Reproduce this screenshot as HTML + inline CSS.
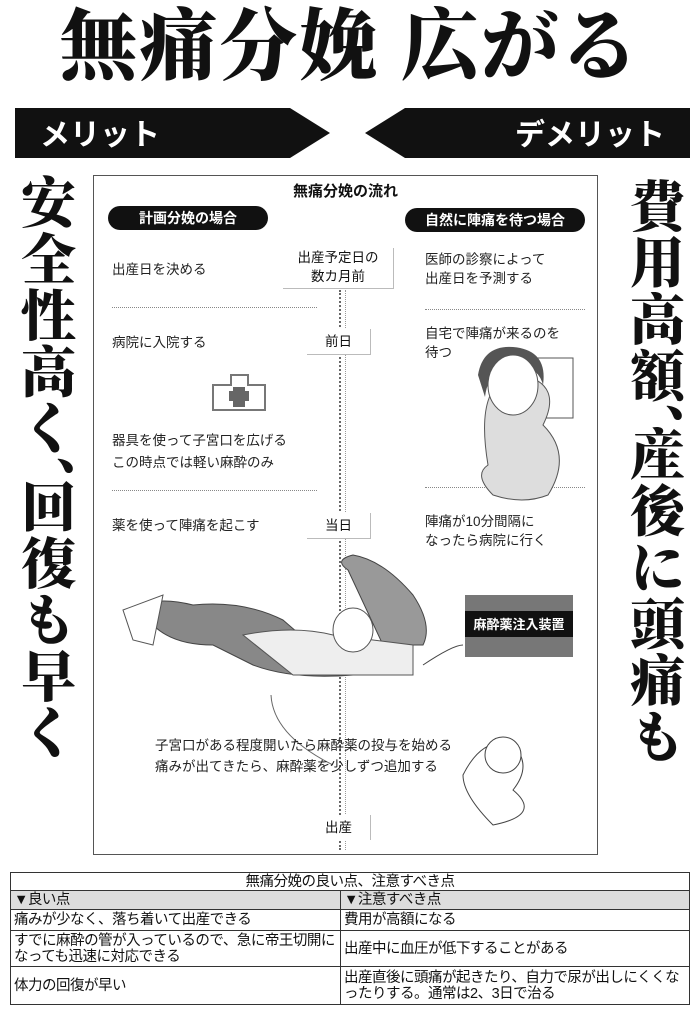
<!DOCTYPE html>
<html><head><meta charset="utf-8"><style>
body{margin:0;width:700px;height:1026px;background:#fff;position:relative;overflow:hidden;font-family:"Liberation Sans","Noto Sans CJK JP",sans-serif;color:#111}
.a{position:absolute}
.title{left:0;top:2px;width:700px;text-align:center;font-family:"Liberation Serif","Noto Serif CJK SC",serif;font-weight:900;font-size:78px;letter-spacing:2px;line-height:90px}
.vt{writing-mode:vertical-rl;font-family:"Liberation Serif","Noto Serif CJK SC",serif;font-weight:900;font-size:55px;line-height:60px;letter-spacing:1.5px}
.cm{display:inline-block;height:22px;overflow:visible}
.t{font-size:13.5px;line-height:20px;color:#222}
.pill{background:#111;color:#fff;font-weight:bold;font-size:14px;border-radius:12px;height:24px;line-height:24px;text-align:center}
.dot{border-top:1px dotted #888;height:0}
.lbl{font-size:13.5px;line-height:19px;text-align:center;border-right:1px solid #bbb;border-bottom:1px solid #bbb;background:#fff}
table{border-collapse:collapse;font-size:14.5px;letter-spacing:-0.5px}
td{border:1px solid #333;padding:0 3px;line-height:16px}
</style></head><body>
<div class="a title">無痛分娩 広がる</div>
<svg class="a" style="left:0;top:0" width="700" height="170">
<polygon points="15,108 290,108 330,133 290,158 15,158" fill="#111"/>
<polygon points="690,108 405,108 365,133 405,158 690,158" fill="#111"/>
<text x="40" y="145" fill="#fff" font-size="30" font-weight="bold" font-family="Liberation Sans,Noto Sans CJK JP,sans-serif">メリット</text>
<text x="515" y="145" fill="#fff" font-size="30" font-weight="bold" font-family="Liberation Sans,Noto Sans CJK JP,sans-serif">デメリット</text>
</svg>
<div class="a vt" style="left:13px;top:174px;height:620px">安全性高く<span class="cm">、</span>回復も早く</div>
<div class="a vt" style="left:622px;top:178px;height:620px">費用高額<span class="cm">、</span>産後に頭痛も</div>

<div class="a" style="left:93px;top:175px;width:505px;height:680px;border:1px solid #555;box-sizing:border-box"></div>
<div class="a" style="left:93px;top:180px;width:505px;text-align:center;font-weight:bold;font-size:15px">無痛分娩の流れ</div>
<div class="a pill" style="left:108px;top:206px;width:160px">計画分娩の場合</div>
<div class="a pill" style="left:405px;top:208px;width:180px">自然に陣痛を待つ場合</div>
<div class="a" style="left:339px;top:290px;width:4px;height:560px;border-left:2px dotted #666;border-right:1px dotted #999"></div>
<div class="a lbl" style="left:283px;top:248px;width:110px;height:40px">出産予定日の<br>数カ月前</div>
<div class="a lbl" style="left:307px;top:329px;width:63px;height:25px;line-height:25px">前日</div>
<div class="a lbl" style="left:307px;top:513px;width:63px;height:25px;line-height:25px">当日</div>
<div class="a lbl" style="left:307px;top:815px;width:63px;height:25px;line-height:25px;border-bottom:none">出産</div>
<div class="a t" style="left:112px;top:260px">出産日を決める</div>
<div class="a t" style="left:112px;top:333px">病院に入院する</div>
<div class="a t" style="left:112px;top:430px;line-height:22px">器具を使って子宮口を広げる<br>この時点では軽い麻酔のみ</div>
<div class="a t" style="left:112px;top:516px">薬を使って陣痛を起こす</div>
<div class="a t" style="left:425px;top:250px;line-height:19px">医師の診察によって<br>出産日を予測する</div>
<div class="a t" style="left:425px;top:324px;line-height:19px">自宅で陣痛が来るのを<br>待つ</div>
<div class="a t" style="left:425px;top:512px;line-height:19px">陣痛が10分間隔に<br>なったら病院に行く</div>
<div class="a dot" style="left:112px;top:307px;width:205px"></div>
<div class="a dot" style="left:112px;top:490px;width:205px"></div>
<div class="a dot" style="left:425px;top:309px;width:160px"></div>
<div class="a dot" style="left:425px;top:487px;width:160px"></div>
<svg class="a" style="left:93px;top:175px" width="505" height="680">
<g fill="#fff" stroke="#777" stroke-width="2">
<polygon points="120,235 120,210 138,210 138,200 155,200 155,210 172,210 172,235"/>
</g>
<rect x="140" y="212" width="12" height="20" fill="#666"/><rect x="136" y="216" width="20" height="10" fill="#666"/>
<rect x="440" y="183" width="40" height="60" fill="#fff" stroke="#555"/>
<path d="M395,290 Q380,200 430,200 Q470,210 450,250 Q480,280 455,320 Q430,330 400,320 Q380,300 395,290Z" fill="#ddd" stroke="#555"/>
<path d="M385,200 Q390,170 420,172 Q455,175 450,210 Q445,190 420,190 Q395,195 392,222Z" fill="#555"/>
<ellipse cx="420" cy="210" rx="25" ry="30" fill="#fff" stroke="#555"/>
<path d="M255,395 Q240,385 260,380 Q290,385 320,420 Q340,450 330,470 L290,470 Z" fill="#999" stroke="#444"/>
<path d="M40,435 Q60,420 100,430 Q150,425 190,445 Q230,480 260,500 Q200,505 160,490 L120,470 Q80,470 60,450Z" fill="#888" stroke="#444"/>
<path d="M150,460 Q200,450 240,460 L320,470 L320,500 L200,500Z" fill="#eee" stroke="#555"/>
<ellipse cx="260" cy="455" rx="20" ry="22" fill="#fff" stroke="#555"/>
<path d="M30,435 L70,420 L60,470 L40,465Z" fill="#fff" stroke="#555"/>
<path d="M330,490 Q360,470 370,470" fill="none" stroke="#444"/>
<rect x="372" y="420" width="108" height="62" fill="#777"/>
<rect x="372" y="436" width="108" height="26" fill="#111"/>
<text x="426" y="454" fill="#fff" font-size="13" font-weight="bold" text-anchor="middle" font-family="Liberation Sans,Noto Sans CJK JP,sans-serif">麻酔薬注入装置</text>
<path d="M178,520 Q180,560 240,590" fill="none" stroke="#666"/>
<path d="M370,600 Q390,560 420,570 Q440,590 420,615 Q450,640 400,650 Q370,620 370,600Z" fill="#fff" stroke="#444"/>
<circle cx="410" cy="580" r="18" fill="#fff" stroke="#444"/>
</svg>
<div class="a t" style="left:155px;top:735px;line-height:21px">子宮口がある程度開いたら麻酔薬の投与を始める<br>痛みが出てきたら、麻酔薬を少しずつ追加する</div>

<table class="a" style="left:10px;top:872px;width:680px">
<tr style="height:18px"><td colspan="2" style="text-align:center">無痛分娩の良い点、注意すべき点</td></tr>
<tr style="height:19px;background:#ddd"><td style="width:323px">▼良い点</td><td>▼注意すべき点</td></tr>
<tr style="height:21px"><td>痛みが少なく、落ち着いて出産できる</td><td>費用が高額になる</td></tr>
<tr style="height:36px"><td>すでに麻酔の管が入っているので、急に帝王切開になっても迅速に対応できる</td><td>出産中に血圧が低下することがある</td></tr>
<tr style="height:38px"><td>体力の回復が早い</td><td>出産直後に頭痛が起きたり、自力で尿が出しにくくなったりする。通常は2、3日で治る</td></tr>
</table>
</body></html>
